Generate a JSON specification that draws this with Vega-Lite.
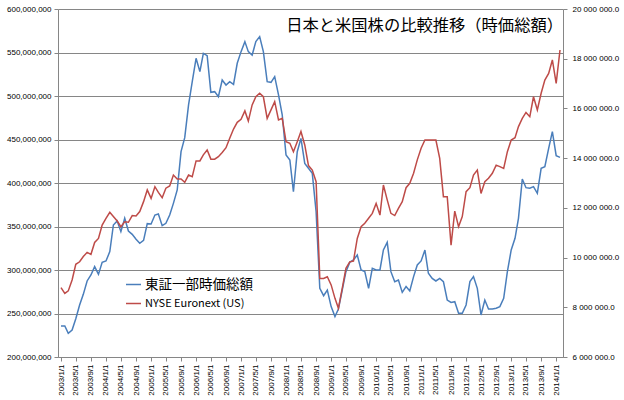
{
  "$schema": "https://vega.github.io/schema/vega-lite/v6.json",
  "width": 505,
  "height": 348,
  "autosize": {"type": "none"},
  "padding": {"left": 58, "top": 9, "right": 61, "bottom": 43},
  "background": "white",
  "config": {"view": {"stroke": null}, "font": "Liberation Sans"},
  "title": {"text": "日本と米国株の比較推移（時価総額）", "orient": "top", "anchor": "end", "frame": "group", "offset": -15, "baseline": "middle", "dx": 0, "dy": 22, "font": "Noto Sans CJK JP", "fontSize": 16.3, "fontWeight": "normal", "color": "#000000"},
  "data": {"values": [
    {"d":"2003/1/1","tse":235600000,"nyse":8790000},
    {"d":"2003/2/1","tse":235600000,"nyse":8560000},
    {"d":"2003/3/1","tse":227200000,"nyse":8660000},
    {"d":"2003/4/1","tse":231000000,"nyse":9100000},
    {"d":"2003/5/1","tse":244000000,"nyse":9730000},
    {"d":"2003/6/1","tse":259800000,"nyse":9830000},
    {"d":"2003/7/1","tse":272000000,"nyse":10040000},
    {"d":"2003/8/1","tse":287400000,"nyse":10210000},
    {"d":"2003/9/1","tse":294300000,"nyse":10130000},
    {"d":"2003/10/1","tse":303900000,"nyse":10610000},
    {"d":"2003/11/1","tse":295000000,"nyse":10770000},
    {"d":"2003/12/1","tse":308800000,"nyse":11310000},
    {"d":"2004/1/1","tse":310400000,"nyse":11580000},
    {"d":"2004/2/1","tse":321100000,"nyse":11820000},
    {"d":"2004/3/1","tse":351700000,"nyse":11650000},
    {"d":"2004/4/1","tse":356300000,"nyse":11470000},
    {"d":"2004/5/1","tse":344100000,"nyse":11240000},
    {"d":"2004/6/1","tse":359400000,"nyse":11440000},
    {"d":"2004/7/1","tse":344800000,"nyse":11420000},
    {"d":"2004/8/1","tse":341000000,"nyse":11690000},
    {"d":"2004/9/1","tse":335300000,"nyse":11670000},
    {"d":"2004/10/1","tse":330700000,"nyse":11850000},
    {"d":"2004/11/1","tse":334100000,"nyse":12250000},
    {"d":"2004/12/1","tse":353300000,"nyse":12720000},
    {"d":"2005/1/1","tse":352900000,"nyse":12380000},
    {"d":"2005/2/1","tse":363200000,"nyse":12850000},
    {"d":"2005/3/1","tse":364400000,"nyse":12620000},
    {"d":"2005/4/1","tse":351000000,"nyse":12410000},
    {"d":"2005/5/1","tse":353700000,"nyse":12790000},
    {"d":"2005/6/1","tse":363200000,"nyse":12880000},
    {"d":"2005/7/1","tse":376600000,"nyse":13320000},
    {"d":"2005/8/1","tse":392000000,"nyse":13160000},
    {"d":"2005/9/1","tse":436000000,"nyse":13160000},
    {"d":"2005/10/1","tse":452100000,"nyse":13030000},
    {"d":"2005/11/1","tse":489700000,"nyse":13320000},
    {"d":"2005/12/1","tse":516500000,"nyse":13250000},
    {"d":"2006/1/1","tse":543300000,"nyse":13890000},
    {"d":"2006/2/1","tse":528000000,"nyse":13890000},
    {"d":"2006/3/1","tse":549000000,"nyse":14130000},
    {"d":"2006/4/1","tse":546400000,"nyse":14330000},
    {"d":"2006/5/1","tse":504200000,"nyse":13960000},
    {"d":"2006/6/1","tse":505000000,"nyse":13960000},
    {"d":"2006/7/1","tse":499200000,"nyse":14060000},
    {"d":"2006/8/1","tse":518400000,"nyse":14230000},
    {"d":"2006/9/1","tse":512600000,"nyse":14420000},
    {"d":"2006/10/1","tse":516500000,"nyse":14800000},
    {"d":"2006/11/1","tse":513400000,"nyse":15170000},
    {"d":"2006/12/1","tse":537600000,"nyse":15440000},
    {"d":"2007/1/1","tse":551000000,"nyse":15560000},
    {"d":"2007/2/1","tse":562500000,"nyse":15900000},
    {"d":"2007/3/1","tse":551000000,"nyse":15490000},
    {"d":"2007/4/1","tse":547100000,"nyse":16140000},
    {"d":"2007/5/1","tse":562500000,"nyse":16470000},
    {"d":"2007/6/1","tse":568200000,"nyse":16610000},
    {"d":"2007/7/1","tse":551000000,"nyse":16470000},
    {"d":"2007/8/1","tse":516500000,"nyse":15600000},
    {"d":"2007/9/1","tse":515700000,"nyse":15940000},
    {"d":"2007/10/1","tse":522200000,"nyse":16270000},
    {"d":"2007/11/1","tse":501200000,"nyse":15540000},
    {"d":"2007/12/1","tse":478200000,"nyse":15600000},
    {"d":"2008/1/1","tse":432200000,"nyse":14660000},
    {"d":"2008/2/1","tse":426400000,"nyse":14600000},
    {"d":"2008/3/1","tse":390000000,"nyse":14260000},
    {"d":"2008/4/1","tse":436000000,"nyse":14660000},
    {"d":"2008/5/1","tse":451300000,"nyse":15070000},
    {"d":"2008/6/1","tse":422600000,"nyse":14530000},
    {"d":"2008/7/1","tse":416900000,"nyse":13700000},
    {"d":"2008/8/1","tse":411100000,"nyse":13520000},
    {"d":"2008/9/1","tse":367100000,"nyse":13050000},
    {"d":"2008/10/1","tse":278900000,"nyse":9160000},
    {"d":"2008/11/1","tse":270500000,"nyse":9160000},
    {"d":"2008/12/1","tse":277000000,"nyse":9230000},
    {"d":"2009/1/1","tse":257900000,"nyse":8900000},
    {"d":"2009/2/1","tse":246400000,"nyse":8360000},
    {"d":"2009/3/1","tse":255200000,"nyse":7960000},
    {"d":"2009/4/1","tse":277000000,"nyse":8760000},
    {"d":"2009/5/1","tse":298100000,"nyse":9570000},
    {"d":"2009/6/1","tse":308800000,"nyse":9830000},
    {"d":"2009/7/1","tse":311500000,"nyse":9860000},
    {"d":"2009/8/1","tse":317200000,"nyse":10770000},
    {"d":"2009/9/1","tse":300000000,"nyse":11240000},
    {"d":"2009/10/1","tse":298100000,"nyse":11380000},
    {"d":"2009/11/1","tse":278900000,"nyse":11580000},
    {"d":"2009/12/1","tse":301900000,"nyse":11780000},
    {"d":"2010/1/1","tse":300000000,"nyse":12180000},
    {"d":"2010/2/1","tse":300000000,"nyse":11710000},
    {"d":"2010/3/1","tse":323000000,"nyse":12920000},
    {"d":"2010/4/1","tse":331800000,"nyse":12320000},
    {"d":"2010/5/1","tse":298100000,"nyse":11780000},
    {"d":"2010/6/1","tse":286600000,"nyse":11690000},
    {"d":"2010/7/1","tse":288500000,"nyse":11980000},
    {"d":"2010/8/1","tse":274300000,"nyse":12250000},
    {"d":"2010/9/1","tse":280900000,"nyse":12810000},
    {"d":"2010/10/1","tse":275900000,"nyse":12990000},
    {"d":"2010/11/1","tse":292400000,"nyse":13390000},
    {"d":"2010/12/1","tse":305800000,"nyse":13930000},
    {"d":"2011/1/1","tse":310400000,"nyse":14400000},
    {"d":"2011/2/1","tse":323000000,"nyse":14730000},
    {"d":"2011/3/1","tse":296200000,"nyse":14730000},
    {"d":"2011/4/1","tse":290400000,"nyse":14730000},
    {"d":"2011/5/1","tse":287400000,"nyse":14730000},
    {"d":"2011/6/1","tse":290400000,"nyse":13990000},
    {"d":"2011/7/1","tse":286600000,"nyse":12450000},
    {"d":"2011/8/1","tse":265500000,"nyse":12450000},
    {"d":"2011/9/1","tse":262800000,"nyse":10500000},
    {"d":"2011/10/1","tse":263600000,"nyse":11870000},
    {"d":"2011/11/1","tse":250200000,"nyse":11240000},
    {"d":"2011/12/1","tse":250200000,"nyse":11650000},
    {"d":"2012/1/1","tse":259800000,"nyse":12650000},
    {"d":"2012/2/1","tse":286600000,"nyse":12810000},
    {"d":"2012/3/1","tse":292400000,"nyse":13320000},
    {"d":"2012/4/1","tse":278900000,"nyse":13520000},
    {"d":"2012/5/1","tse":248300000,"nyse":12580000},
    {"d":"2012/6/1","tse":265500000,"nyse":13050000},
    {"d":"2012/7/1","tse":255200000,"nyse":13190000},
    {"d":"2012/8/1","tse":255200000,"nyse":13390000},
    {"d":"2012/9/1","tse":256000000,"nyse":13720000},
    {"d":"2012/10/1","tse":257900000,"nyse":13660000},
    {"d":"2012/11/1","tse":267400000,"nyse":13590000},
    {"d":"2012/12/1","tse":298100000,"nyse":14260000},
    {"d":"2013/1/1","tse":323000000,"nyse":14730000},
    {"d":"2013/2/1","tse":336400000,"nyse":14820000},
    {"d":"2013/3/1","tse":359400000,"nyse":15270000},
    {"d":"2013/4/1","tse":404600000,"nyse":15600000},
    {"d":"2013/5/1","tse":394600000,"nyse":15840000},
    {"d":"2013/6/1","tse":393900000,"nyse":15670000},
    {"d":"2013/7/1","tse":395800000,"nyse":16470000},
    {"d":"2013/8/1","tse":388100000,"nyse":15940000},
    {"d":"2013/9/1","tse":416900000,"nyse":16610000},
    {"d":"2013/10/1","tse":418800000,"nyse":17140000},
    {"d":"2013/11/1","tse":439900000,"nyse":17410000},
    {"d":"2013/12/1","tse":459000000,"nyse":17950000},
    {"d":"2014/1/1","tse":431400000,"nyse":17010000},
    {"d":"2014/2/1","tse":429500000,"nyse":18350000}
  ]},
  "encoding": {
    "x": {
      "field": "d", "type": "temporal", "title": null,
      "scale": {"nice": false, "padding": 3},
      "axis": {
        "format": "%Y/%-m/%-d", "tickCount": {"interval": "month", "step": 4},
        "labelAngle": 270, "labelAlign": "right", "labelBaseline": "middle",
        "labelFontSize": 8, "labelColor": "#000000", "labelPadding": 3, "labelOverlap": false, "labelFlush": false,
        "grid": false, "domainColor": "#868686", "tickColor": "#868686", "tickSize": 4
      }
    }
  },
  "layer": [
    {
      "mark": {"type": "line", "strokeWidth": 1.5},
      "encoding": {
        "y": {
          "field": "tse", "type": "quantitative", "title": null,
          "scale": {"domain": [200000000, 600000000], "nice": false},
          "axis": {"orient": "left", "format": ",d", "tickCount": 8, "labelFontSize": 8, "labelColor": "#000000", "labelPadding": 3,
                   "grid": true, "gridColor": "#868686", "gridWidth": 1, "domainColor": "#868686", "tickColor": "#868686", "tickSize": 4}
        },
        "color": {
          "datum": "東証一部時価総額",
          "scale": {"domain": ["東証一部時価総額", "NYSE Euronext (US)"], "range": ["#4a7ebb", "#be4b48"]},
          "legend": {
            "orient": "none", "legendX": 67, "legendY": 267, "title": null,
            "symbolType": "stroke", "symbolSize": 225, "symbolStrokeWidth": 1.5,
            "labelFont": "Noto Sans CJK JP", "labelFontSize": 13, "labelColor": "#000000",
            "rowPadding": 4, "padding": 0, "labelOffset": 3,
            "encode": {"labels": {"update": {"fontSize": {"signal": "datum.value === 'NYSE Euronext (US)' ? 11 : 13.5"}}}}
          }
        }
      }
    },
    {
      "mark": {"type": "line", "strokeWidth": 1.5},
      "encoding": {
        "y": {
          "field": "nyse", "type": "quantitative", "title": null,
          "scale": {"domain": [6000000, 20000000], "nice": false},
          "axis": {"orient": "right", "tickCount": 7, "labelExpr": "replace(format(datum.value, ',.1f'), /,/g, ' ')",
                   "labelFontSize": 8, "labelColor": "#000000", "labelPadding": 5,
                   "grid": false, "domainColor": "#868686", "tickColor": "#868686", "tickSize": 4}
        },
        "color": {"datum": "NYSE Euronext (US)"}
      }
    }
  ],
  "resolve": {"scale": {"y": "independent"}}
}
